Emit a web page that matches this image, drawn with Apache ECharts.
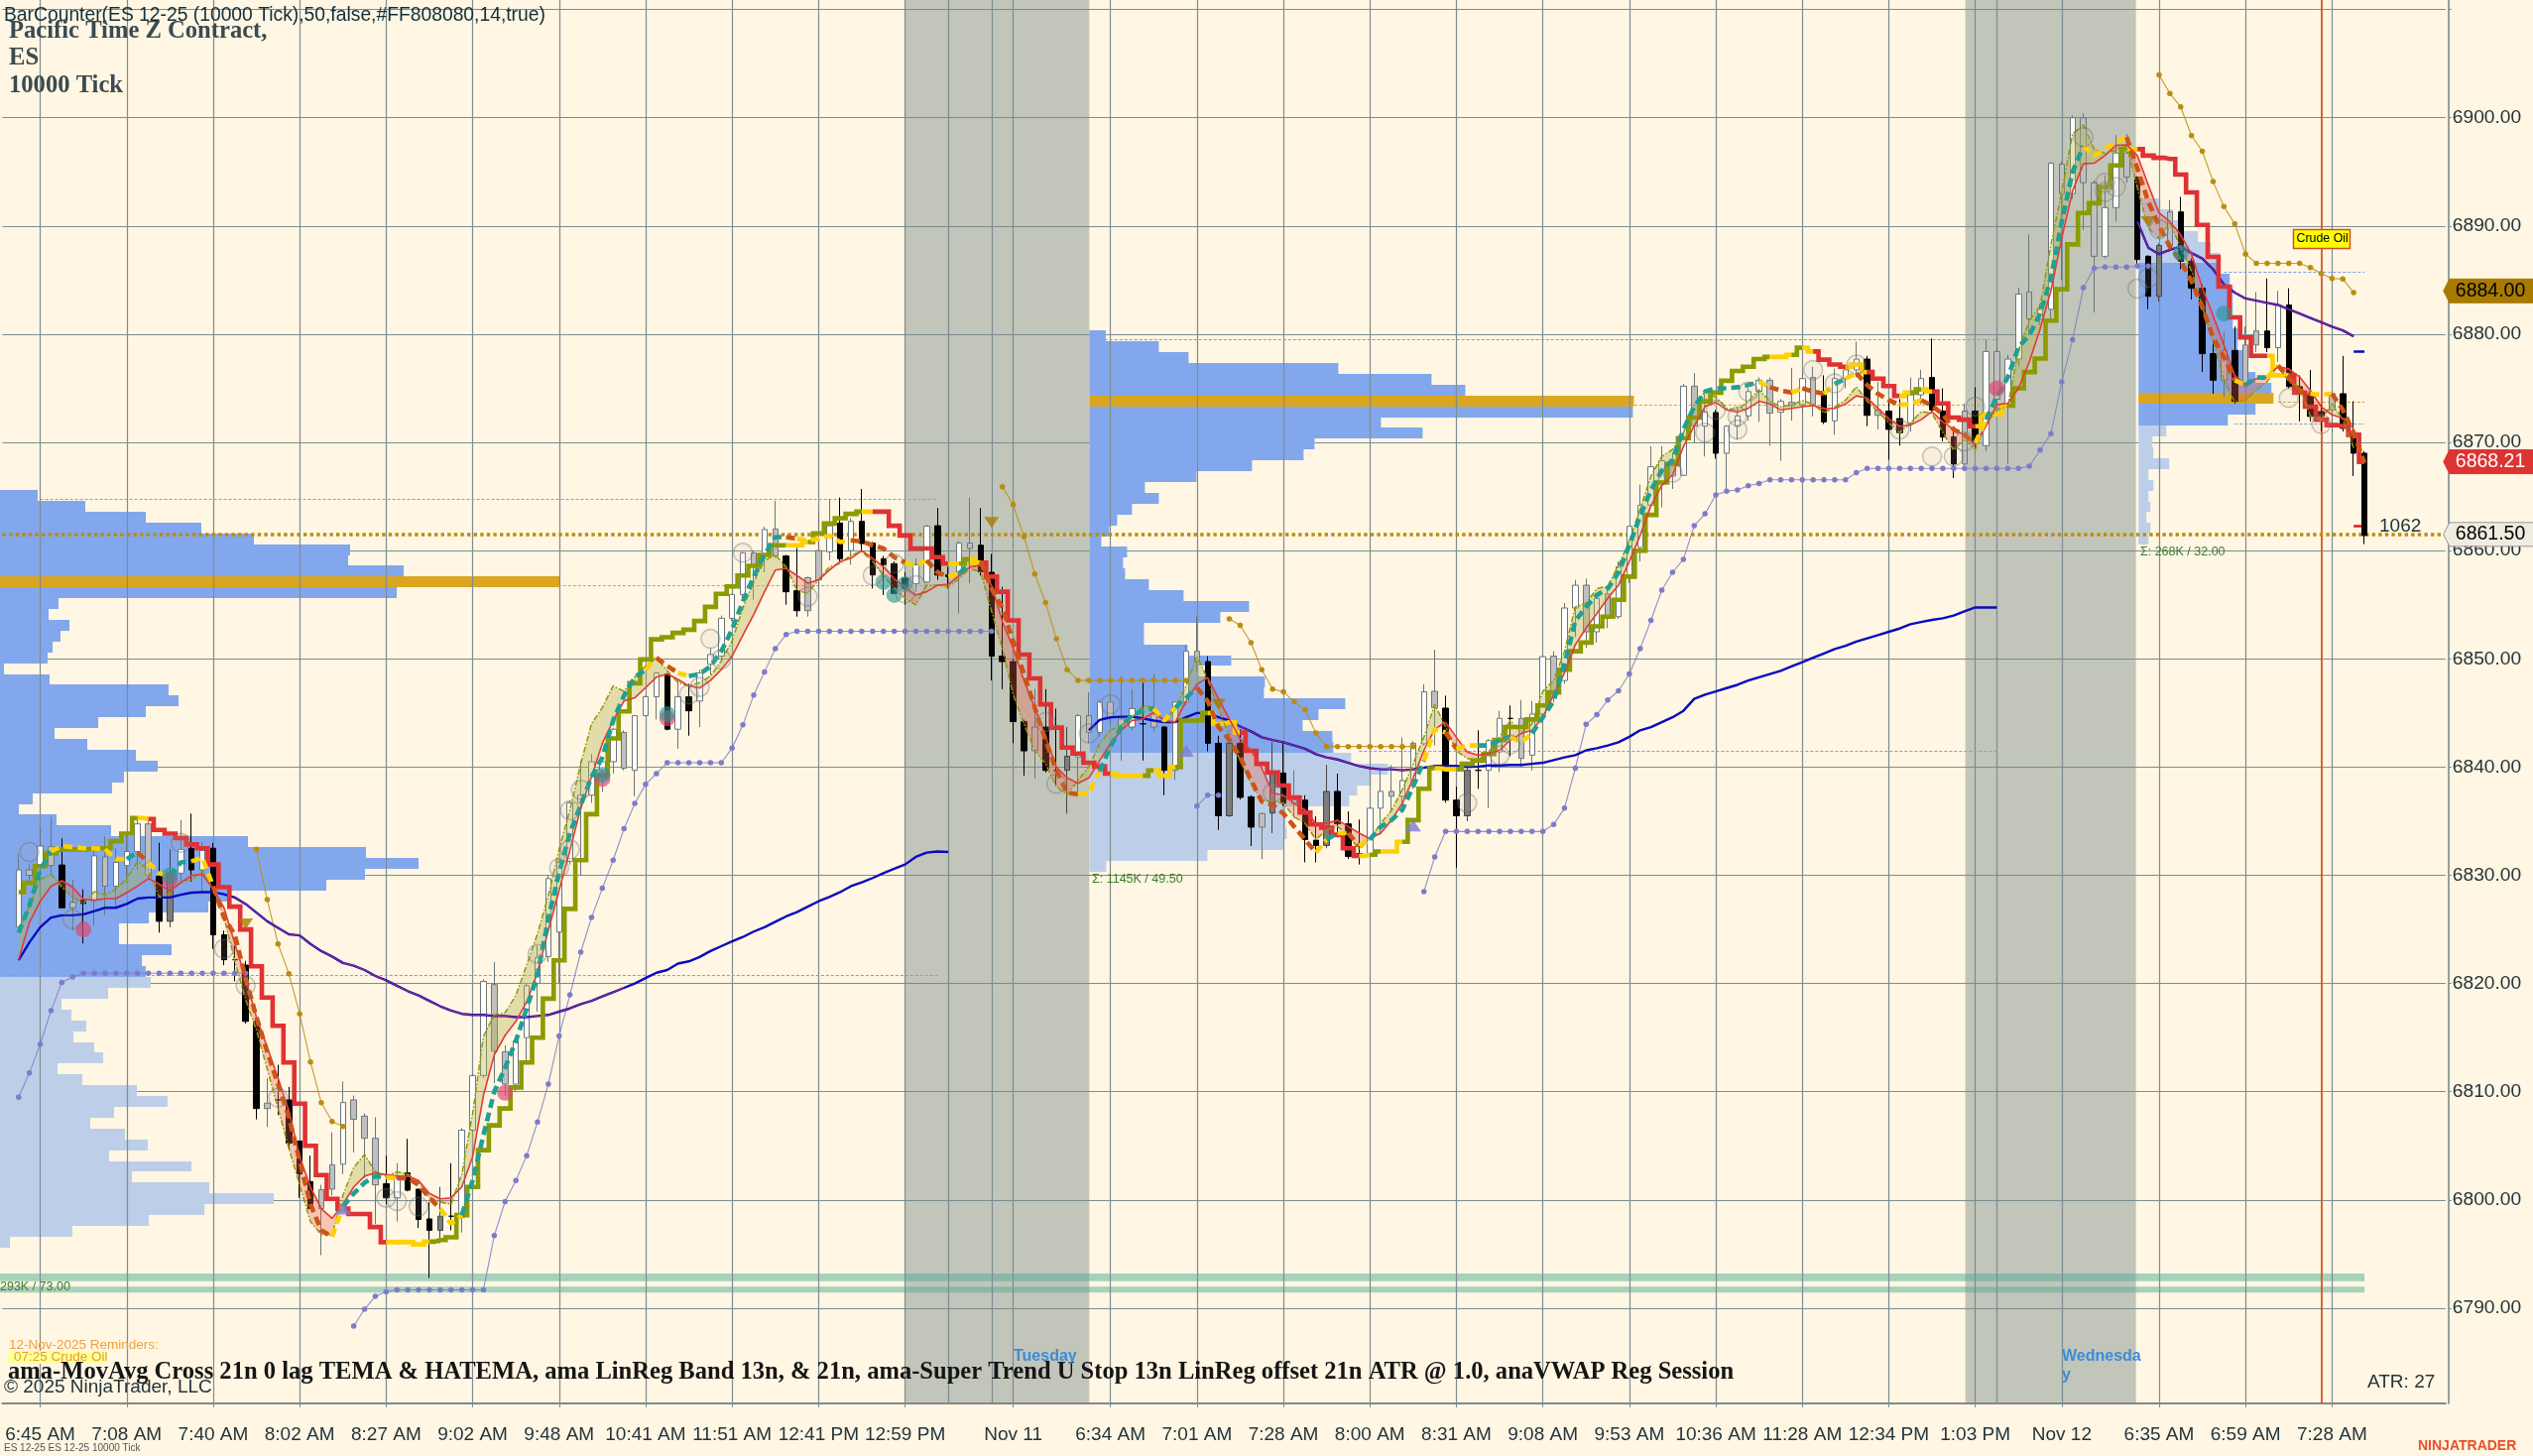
<!DOCTYPE html>
<html><head><meta charset="utf-8"><style>html,body{margin:0;padding:0;background:#FFF6E3}#c{width:2554px;height:1468px}</style>
<script src="https://cdn.jsdelivr.net/npm/echarts@6/dist/echarts.min.js"></script></head><body><div id="c"></div>
<script>
// bar index of every candle; categories are bar index + 1
const BAR_SLOTS = 226;
const tickBars = [2,10,18,26,34,42,50,58,66,74,82,92,101,109,117,125,133,141,149,157,165,173,181,189,198,206,214];
const tickLabels = ['6:45 AM','7:08 AM','7:40 AM','8:02 AM','8:27 AM','9:02 AM','9:48 AM','10:41 AM','11:51 AM','12:41 PM','12:59 PM','Nov 11','6:34 AM','7:01 AM','7:28 AM','8:00 AM','8:31 AM','9:08 AM','9:53 AM','10:36 AM','11:28 AM','12:34 PM','1:03 PM','Nov 12','6:35 AM','6:59 AM','7:28 AM'];
const extraGridBars = [86,90,183];
const priceTicks = [6790,6800,6810,6820,6830,6840,6850,6860,6870,6880,6890,6900];
// [open, close, low, high]
const candles = [
[6825.25,6830.5,6825.25,6832],[6830.5,6830,6829.5,6831],[6830.8,6832.7,6827.9,6834.4],[6830.9,6832.65,6829.9,6835.4],[6830.95,6827,6827,6833.4],[6827.5,6827,6824.9,6829.6],[6827.7,6827.4,6823.7,6828.7],[6827.7,6831.8,6825.4,6832.4],[6829,6831.7,6826.3,6833.6],[6829,6831.2,6826.9,6832.5],
[6830.9,6832.2,6829.3,6834],[6832.2,6834.75,6830.5,6835.4],[6834.75,6830,6829.6,6835],[6829.9,6825.75,6824.7,6833],[6830.2,6825.75,6825.2,6832.4],[6830.2,6832.4,6829.5,6835.1],[6832.5,6830.5,6829.4,6835.7],[6830.5,6832.3,6828.4,6833.1],[6832.5,6824.5,6823.2,6833],[6824.5,6822.2,6821.7,6824.9],
[6822.2,6822.2,6820.2,6823.5],[6821.7,6816.5,6816.3,6822.1],[6816.5,6808.45,6807.45,6816.9],[6808.95,6808.45,6806.75,6811.25],[6809.25,6809.25,6807.85,6812.5],[6809.25,6805.25,6804.65,6810.45],[6805.45,6802.4,6800.2,6805.45],[6801.7,6799.2,6799.2,6804.1],[6800.95,6799.2,6794.9,6801.4],[6803.25,6801,6800.4,6806.25],
[6803.3,6809,6802.4,6810.95],[6809.25,6807.45,6804.4,6809.65],[6807.75,6805.7,6802,6808],[6805.7,6801.4,6797.8,6807.65],[6801.5,6800.2,6799.6,6804.1],[6800.2,6802,6798,6803.4],[6802.5,6800.9,6800.8,6805.65],[6801,6798.2,6797.4,6801],[6798.25,6797.2,6792.8,6799.8],[6798.5,6797.2,6796,6801.2],
[6798.5,6798.5,6797.2,6803.4],[6798.4,6806.45,6797,6806.65],[6806.45,6811.5,6806.25,6811.7],[6811.5,6820.2,6811.3,6820.4],[6819.9,6813.75,6810.8,6822],[6813.7,6810.7,6809.6,6814.3],[6810.7,6814.7,6810,6815],[6815,6819.8,6812.8,6820],[6820,6822.4,6817.4,6823.5],[6822.5,6829.7,6822,6830],
[6824.75,6831.2,6820,6831.5],[6831.3,6836.7,6831,6836.9],[6836.7,6837.4,6830,6840.6],[6837.4,6840.5,6836.7,6841.2],[6839.7,6840.5,6837.7,6840.6],[6840.5,6843.5,6839.4,6843.6],[6843.2,6839.9,6839.7,6843.4],[6839.7,6844.75,6837.3,6844.8],[6844.75,6846.5,6844.7,6846.6],[6846.5,6848.7,6844.4,6848.8],
[6848.6,6843.5,6843.4,6848.7],[6843.5,6846.5,6841.7,6848],[6846.5,6845.2,6842.9,6847.7],[6846.1,6848.7,6843.7,6849],[6849.5,6850.4,6848.5,6851],[6850.25,6853.75,6849.7,6854],[6853.75,6855.95,6853.5,6856],[6855.95,6859.8,6855.5,6859.9],[6859.8,6858.65,6855.45,6860],[6859.7,6861.95,6858,6862.2],
[6859.5,6862,6859.3,6864.6],[6859.5,6856.2,6855,6859.6],[6856.3,6854.45,6853.9,6860.25],[6857.5,6854.45,6853.9,6857.6],[6857.3,6860,6856.5,6863.7],[6859.9,6862.3,6859.1,6864.75],[6862.55,6859.25,6859,6864.9],[6860,6862.7,6858.7,6863],[6862.7,6860.65,6860,6865.7],[6860.7,6857.75,6856.5,6860.8],
[6859.25,6858.7,6855.9,6859.5],[6858.8,6856.05,6856,6859],[6857.45,6856.5,6855,6858],[6856.95,6858.7,6856.2,6859.3],[6857.1,6862.25,6857,6862.4],[6862.3,6857.75,6857.3,6863.95],[6857.75,6857.6,6856.5,6858.5],[6858.05,6860.7,6854.2,6860.9],[6860.7,6860.2,6857,6864.9],[6860.5,6858.05,6857.7,6863.95],
[6858,6850.25,6848,6859.7],[6850.25,6849.75,6847.2,6856.65],[6849.75,6844.2,6842.2,6850],[6844.2,6841.5,6839.2,6844.4],[6843.7,6841.5,6838.95,6847.2],[6843.7,6839.7,6839.5,6847.2],[6839.7,6839.7,6838.2,6845.4],[6841,6839.7,6835.7,6843.7],[6840.95,6844.75,6837.6,6844.9],[6844.75,6843.2,6842.2,6846.9],
[6843.2,6846,6842.8,6846.2],[6846,6844.6,6844,6846.6],[6844.45,6843.7,6840.6,6848.4],[6843.7,6845.4,6843.4,6847.2],[6844,6844,6840.6,6848],[6844.9,6843.7,6843.3,6848.6],[6843.7,6839.7,6837.4,6843.8],[6839.7,6846,6838.8,6846.1],[6846,6850.7,6845.7,6851.3],[6850.7,6849.8,6848.9,6854],
[6849.75,6842.2,6841.45,6850.25],[6842.2,6835.5,6834.2,6842.9],[6842.2,6835.5,6835.4,6843.1],[6842.2,6837.2,6837,6843.5],[6837.25,6834.45,6832.7,6837.4],[6835.7,6834.45,6831.5,6835.8],[6835.75,6839.35,6833.9,6842.3],[6839.45,6836.65,6836.4,6842.3],[6836.95,6836.65,6835.3,6839.7],[6836.95,6833.3,6831.2,6837.4],
[6833.25,6832.75,6831.2,6835.45],[6837.75,6832.75,6832.5,6840.2],[6837.75,6834.75,6833.5,6839.4],[6834.75,6831.75,6831.5,6835.9],[6832,6832,6831,6835.15],[6832,6836.2,6831.8,6836.3],[6836.2,6837.75,6833.75,6839.7],[6837.75,6837.3,6836.05,6840.2],[6837.3,6838.75,6836,6842.75],[6838.75,6842.2,6838,6842.4],
[6842.15,6846.95,6842,6847.65],[6847,6845.5,6842,6850.85],[6845.45,6836.95,6836.7,6846.6],[6836.95,6835.5,6830.7,6838.2],[6839.7,6835.5,6835,6840],[6839.7,6839.7,6838,6843.4],[6839.7,6842.45,6836.2,6842.6],[6841.4,6844.5,6839.55,6845.2],[6844.5,6844.5,6841,6845.7],[6844.5,6840.8,6840,6846.2],
[6841.1,6844.9,6839.7,6846.1],[6844.9,6850.2,6844.5,6850.3],[6850.25,6846.4,6846,6850.7],[6848,6854.7,6847.7,6855.15],[6854.7,6856.8,6852,6857.3],[6856.8,6852.5,6851,6857.4],[6852.5,6855.6,6851.5,6856],[6856,6853.9,6852.85,6856.5],[6853.9,6858.5,6853.7,6859],[6857.7,6862.25,6857,6862.3],
[6860.3,6864.2,6859,6866.1],[6864.2,6867.75,6864,6869.65],[6866.3,6868.3,6864,6869.65],[6868.4,6866.9,6865.7,6869],[6866.96,6875.2,6866.9,6875.4],[6875.2,6871.5,6869.95,6876.4],[6871.5,6872.8,6868.7,6874.8],[6872.76,6869,6868.5,6873],[6869,6871.5,6865.7,6871.6],[6871.5,6872.45,6870.25,6873.3],
[6872.45,6874.7,6872,6875],[6874.7,6875.75,6871.9,6876],[6875.75,6872.7,6869.7,6876],[6872.8,6873.8,6868.3,6874],[6873.7,6873.4,6872,6876.9],[6873.5,6875.9,6872.7,6876.5],[6876,6873.5,6872.4,6877],[6874.4,6871.9,6871.7,6876.2],[6872,6875.9,6870.7,6876.8],[6875.9,6876.7,6875,6877.2],
[6876.7,6877.7,6876,6879.3],[6877.7,6872.5,6871.5,6878],[6873,6872.5,6871.2,6875.6],[6872.9,6871.2,6868.4,6873.9],[6872.2,6870.9,6869.7,6874],[6871.8,6874.4,6871,6876],[6874.4,6875.9,6873.5,6876.7],[6876,6873,6872.7,6879.6],[6872.9,6870.5,6870.1,6875],[6870.5,6868,6866.7,6871],
[6872.9,6868,6867.7,6873.6],[6872.9,6869.95,6869.5,6875.1],[6869.7,6878.4,6869.2,6879.5],[6878.4,6874,6873.5,6879.7],[6873.3,6877.7,6868,6878.1],[6877.7,6883.7,6877,6884.3],[6883.9,6881.4,6880,6889.2],[6881.4,6882.3,6880.8,6882.8],[6882.3,6895.8,6881,6895.9],[6895.7,6893,6885,6896],
[6893,6900,6892.5,6900.2],[6900,6894,6889.65,6900.4],[6894,6887.2,6882,6894.2],[6887.2,6891.7,6887,6894.7],[6891.7,6896.75,6890.4,6898.4],[6896.75,6894.5,6894,6898.5],[6894.5,6886.9,6886.4,6894.6],[6887.2,6883.5,6882.3,6887.3],[6888.2,6883.5,6883,6888.4],[6891.3,6888.2,6887.6,6892.4],
[6891.3,6886.75,6886,6892.7],[6886.75,6884.25,6883.2,6887],[6884.25,6878.2,6876.5,6884.6],[6878.2,6875.75,6874.5,6879.4],[6878.5,6875.75,6874.2,6880.2],[6878.5,6873.8,6873.6,6880.7],[6879,6875.45,6875,6880.7],[6880.3,6879,6878.35,6883.9],[6880.3,6878.75,6878.35,6885.15],[6878.75,6882.7,6877.45,6884],
[6882.7,6875.15,6875,6884.25],[6875.15,6874.5,6871.95,6876.2],[6874.5,6872.4,6871.95,6876.7],[6872.85,6872.4,6871,6873.5],[6874.5,6873,6871,6874.8],[6874.5,6871.3,6871,6878],[6870.9,6869,6866.9,6873.8],[6869,6861.4,6860.6,6869.2]
];
const lightGreyBars = [1,3,5,8,12,23,28,29,31,32,33,44,45,56,68,70,73,74,88,94,99,101,102,105,109,115,118,127,131,139,142,145,147,153,155,162,164,166,172,180,183,186,189,191,192,195,199,204,206,207,214];
const darkGreyBars = [14,39,97,112,116,121,134,198];
// super trend stop
const stopLine = [6828.45,6829.3,6830.85,6832.05,6832.4,6832.4,6832.4,6832.5,6832.5,6833.15,
6833.85,6835.3,6835.2,6834.2,6833.85,6833.45,6832.85,6832.5,6831,6828.9,
6827.1,6825,6821.6,6818.7,6816.1,6812.7,6808.9,6805,6802.3,6800.1,
6799.2,6798.7,6798.7,6797.5,6796.1,6796.1,6796.1,6795.9,6796.15,6796.3,
6796.55,6798.6,6801.2,6804.6,6806.9,6808.45,6810.4,6812.7,6815,6818.6,
6822.15,6826.9,6831.4,6835.65,6839.2,6842.65,6845.15,6847.75,6849.95,6851.8,
6852,6852.4,6852.7,6853.5,6854.8,6856,6856.7,6857.7,6858.6,6859.6,
6860.5,6860.5,6860.5,6860.8,6861.6,6862.5,6863,6863.4,6863.6,6863.6,
6863.6,6862.3,6861.4,6860.2,6860.2,6859.4,6858.8,6858.8,6859.2,6858.9,
6857.6,6856.2,6853.55,6850.4,6848.2,6845.8,6843.65,6841.8,6841.25,6840.4,
6840.05,6839.4,6839.2,6839.2,6839.2,6839.7,6839.2,6840,6844.3,6844.3,
6845,6844,6844.15,6843.2,6841.5,6840.3,6839.5,6838.3,6837.2,6835.8,
6834.7,6834.4,6833.75,6832.5,6831.8,6831.9,6832.2,6832.2,6833.1,6835.1,
6838,6839.9,6839.8,6839.8,6840.3,6840.6,6841.2,6842.5,6843.7,6843.7,
6844.4,6845.7,6846.9,6849,6850.7,6851.5,6853,6853.9,6855.45,6857.6,
6860,6863.3,6866.3,6868,6870.4,6872.3,6873.8,6874.6,6875.7,6876.6,
6877,6877.7,6877.9,6877.9,6878.1,6878.75,6878.4,6877.65,6877.2,6877,
6877.2,6876.5,6875.9,6875.2,6874.3,6874.6,6874.9,6874.7,6873.6,6872.3,
6872.1,6871.5,6872.6,6872.6,6873.4,6875,6876.5,6877.75,6881.25,6884.15,
6888.3,6891.2,6892.1,6893.6,6895.6,6897.1,6897.1,6896.5,6896.3,6896.2,
6894.75,6893.1,6890.1,6887.15,6884.4,6881.55,6879.7,6878,6878,6876.2,
6876.2,6874.6,6873.3,6872.1,6871.6,6871.5,6870.7,6868.2];
const stopRuns = [[0,'o'],[11,'g'],[12,'r'],[34,'g'],[38,'o'],[71,'g'],[73,'o'],[78,'g'],[79,'r'],[86,'g'],[87,'o'],[88,'g'],[89,'r'],[101,'g'],[104,'o'],[105,'g'],[107,'o'],[110,'g'],[113,'r'],[124,'g'],[125,'o'],[126,'g'],[128,'o'],[131,'g'],[133,'o'],[162,'g'],[164,'o'],[165,'g'],[166,'r'],[169,'g'],[171,'r'],[174,'g'],[175,'o'],[176,'g'],[177,'r'],[181,'g'],[184,'o'],[195,'g'],[196,'r'],[208,'g'],[210,'r']];
const temaLine = [6824.7,6827.2,6830.5,6832.2,6832.7,6832.6,6832.5,6832.5,6832.4,6831.5,
6831.5,6832.1,6831.2,6830.2,6829.9,6831.2,6831.3,6831.6,6829,6826.1,
6824.5,6820.5,6816.9,6813.7,6810.7,6807.65,6803.6,6799.6,6797.2,6796.6,
6799.4,6800.6,6801.6,6802.2,6802.1,6802,6802,6801.4,6800.2,6799.2,
6797.8,6798.6,6801.8,6806,6810,6812.2,6814.7,6817.7,6820.8,6826,
6830.25,6833.9,6836.5,6839.1,6840.9,6844.3,6846.6,6848.3,6849,6850.1,
6849.35,6848.7,6848.4,6848.6,6849.3,6850.7,6852.7,6855.3,6857.6,6859.6,
6861.25,6861.25,6861.1,6860.95,6861.1,6861.4,6860.8,6860.95,6860.85,6860.5,
6860.2,6859.4,6858.9,6858.6,6859.1,6858,6857.6,6857.9,6858.8,6859,
6856.5,6854.7,6851.6,6848.6,6845.5,6842.5,6839.7,6837.6,6837.5,6837.6,
6839.6,6841.9,6843.7,6844.8,6845.2,6845.4,6844.3,6845.5,6846.4,6847.35,
6846.1,6843.7,6842.5,6840.9,6838.8,6836.8,6836.5,6835.7,6834.5,6833.3,
6832.1,6833.3,6833.9,6833.9,6832.7,6833.3,6834.5,6835.1,6836.05,6838.2,
6840.6,6843.5,6843.2,6841.7,6842,6842,6842,6842.5,6842.8,6842.3,
6843.1,6844.6,6846.1,6849.5,6853.5,6854.8,6855.9,6856.5,6858,6860.5,
6863.2,6865.6,6867.4,6868.4,6871.2,6873.3,6874.7,6875,6875,6875.1,
6875.3,6875.6,6875.1,6874.8,6874.6,6875,6874.7,6874.5,6875.4,6875.9,
6876.4,6875.3,6874.5,6873.9,6873.5,6873.5,6873.9,6873.4,6872.6,6871.2,
6870.7,6869.95,6872.1,6874.25,6876,6878.8,6879.9,6881.9,6885.2,6890.4,
6895,6897.4,6896.5,6897.1,6897.75,6898.2,6895.3,6892.25,6890,6888.1,
6886.75,6884.9,6882.5,6879.7,6877.9,6875.75,6875.3,6876,6876,6877.1,
6876,6874.8,6874.5,6874.4,6874.5,6873,6870.9,6868.1];
const temaRuns = [[0,'t'],[3,'g'],[10,'t'],[11,'o'],[12,'g'],[14,'t'],[16,'g'],[18,'o'],[29,'g'],[30,'t'],[34,'g'],[35,'o'],[39,'g'],[41,'t'],[58,'g'],[59,'o'],[61,'g'],[62,'t'],[71,'o'],[72,'g'],[77,'o'],[82,'g'],[84,'o'],[86,'g'],[87,'t'],[88,'g'],[89,'o'],[98,'g'],[100,'t'],[105,'g'],[107,'t'],[109,'o'],[120,'g'],[121,'t'],[122,'g'],[123,'o'],[124,'g'],[125,'t'],[130,'g'],[132,'o'],[133,'g'],[135,'t'],[138,'g'],[140,'t'],[161,'g'],[162,'o'],[164,'g'],[165,'o'],[167,'g'],[168,'t'],[169,'g'],[170,'o'],[174,'g'],[176,'o'],[181,'g'],[182,'t'],[191,'g'],[195,'o'],[205,'g'],[206,'t'],[208,'g'],[209,'o'],[212,'g'],[214,'o']];
const hatemaLine = [6822.2,6825.65,6827.6,6829,6829.5,6828.9,6827.8,6827.7,6827.85,6827.85,
6828.4,6829,6829.7,6829.2,6828.55,6829.3,6830,6830.1,6828.75,6827,
6823.7,6820.5,6816.9,6814.1,6811.25,6808.25,6804,6801.2,6799.2,6798.3,
6799.6,6801.2,6802.2,6802.5,6802.35,6802.2,6802.2,6801.8,6800.6,6800.1,
6800.2,6801.2,6804,6809.65,6813.4,6815.2,6816.5,6818.3,6821,6824.9,
6828.6,6832.3,6836.2,6839.1,6842.2,6844.3,6846.1,6846.4,6847.35,6848.3,
6848.6,6848.1,6847.5,6847.3,6848,6849,6850.25,6852.2,6854.1,6856.2,
6858.2,6858.35,6857.7,6857,6857.3,6858.2,6859,6859.3,6860,6859.3,
6858.5,6857.4,6856.65,6855.9,6856.2,6856.8,6856.9,6857.7,6858.5,6858.65,
6856.8,6853.45,6851,6848,6845.5,6842.8,6840,6839,6838.5,6839,
6840.6,6842.2,6843.4,6844.3,6844.45,6845.05,6844.3,6844.15,6846.1,6847.65,
6848.25,6846.3,6844.45,6842.6,6841.55,6839.9,6837.6,6837.4,6836.65,6836.05,
6834.8,6834.8,6835.1,6834.5,6833.9,6833.4,6833.9,6835.1,6836.65,6838.95,
6841.55,6843.5,6844.15,6842.75,6841.4,6841.1,6841.25,6841.55,6842.5,6843.1,
6843.4,6844.6,6846.7,6848.7,6851.3,6852.85,6854.2,6855.6,6856.8,6859,
6861.4,6864.15,6866,6867,6869.6,6871.5,6873.3,6873.7,6873,6872.8,
6873.15,6873.8,6873.55,6873,6873.15,6873.3,6873.4,6873.15,6873.15,6873.55,
6874.3,6874.1,6873.15,6872.2,6871.5,6871.6,6872.1,6872.85,6871.9,6871.2,
6870.7,6869.8,6871.5,6873.5,6873.6,6875,6877.45,6880.5,6884,6888.9,
6893.2,6895.75,6895.8,6896.5,6897.45,6897.5,6896.5,6893.8,6891.2,6890.4,
6889.2,6887.4,6884.3,6881.7,6879,6876.2,6875.3,6875.9,6876.05,6877,
6876.8,6876.05,6874.8,6873.3,6872.55,6872.25,6871.3];
const linRegLine = [6824.7,6827.2,6829.6,6830.1,6828.9,6827.95,6827.4,6828.5,6828.2,6828.7,
6829.7,6831.3,6830.5,6828,6828.25,6829.5,6829.55,6830.4,6828.7,6826.1,
6822.1,6818.5,6815.7,6812.1,6808.45,6804.8,6801.4,6798,6796.8,6796.8,
6800.4,6803,6804.2,6802.6,6802.2,6802.6,6802.4,6801.6,6800.2,6799.8,
6799.6,6802.4,6808,6815.1,6817.1,6817.3,6818.9,6821.7,6824.6,6828.1,
6832.4,6836.05,6840.3,6844,6845.5,6847.5,6847,6848.3,6849.35,6850.1,
6848.9,6847.8,6847.5,6847.8,6848.4,6849.8,6851.65,6854.7,6857.1,6859.1,
6859.6,6858.5,6856.35,6856.05,6857.3,6858.5,6858.8,6859.6,6859.9,6859,
6857.7,6856.5,6855.6,6855,6856.8,6856.8,6856.65,6857.4,6858.35,6858,
6854.4,6851,6846.7,6844,6841.55,6840.3,6838.2,6837.4,6838.8,6840,
6842.2,6843.4,6843.85,6844.6,6845.7,6845.5,6844.15,6845.5,6847.5,6850.25,
6848.1,6845.4,6842.8,6840.6,6838.5,6836.95,6836.8,6836.65,6835.4,6834.8,
6833.3,6834.2,6834.5,6833.75,6832.4,6833.3,6834.8,6836,6837.9,6840.3,
6842.8,6845.8,6843.7,6841.5,6840.8,6840.6,6841.4,6842.8,6844.3,6843.1,
6844,6847,6848,6850.7,6854.8,6855.15,6856.5,6856.7,6858.65,6860.9,
6863.85,6866.9,6868.7,6869.35,6870.9,6873.5,6874.7,6874.2,6873.15,6873,
6873.8,6874.85,6873.8,6873.3,6873.45,6873.85,6873.55,6872.7,6873.3,6873.9,
6875.15,6873.8,6872.85,6871.8,6870.9,6871.8,6872.85,6872.7,6870.9,6869.3,
6870.25,6869.35,6871.8,6873,6873.3,6878.5,6881.25,6882.6,6888.3,6893.2,
6898.5,6899.35,6897.1,6896.7,6897,6897.4,6893.5,6889.8,6888.9,6890.3,
6888,6885.85,6882.5,6879.4,6875.75,6873.7,6873.9,6874.85,6875.6,6877.15,
6875.6,6875.15,6872.4,6872.1,6873.6,6872.1,6869.5];
// dotted blue stop segments: first bar, then values
const blueStopA = [0,[6809.5,6811.75,6814.4,6817.5,6820.1,6820.6,6820.95,6820.95,6820.95,6820.95,6820.95,6820.95,6820.95,6820.95,6820.95,6820.95,6820.95,6820.95,6820.95,6820.95,6820.95,6820.95]];
const blueStopB = [31,[6788.35,6789.9,6791.1,6791.5,6791.7,6791.7,6791.7,6791.7,6791.7,6791.7,6791.7,6791.7,6791.7,6796.7,6799.85,6801.8,6804.1,6807.2,6810.7,6815.15,6818.95,6822.9,6826.1,6828.8,6831.4,6834.3,6836.65,6838.4,6839.4,6840.4,6840.4,6840.4,6840.4,6840.4,6840.4,6841.75,6843.9,6846.65,6848.8,6850.95,6852.25,6852.55,6852.55,6852.55,6852.55,6852.55,6852.55,6852.55,6852.55,6852.55,6852.55,6852.55,6852.55,6852.55,6852.55,6852.55,6852.55,6852.55,6852.55,6852.55]];
const blueStopC = [109,[6836.4,6837.4,6837.4]];
const blueStopD = [130,[6828.5,6831.7,6834.05,6834.05,6834.05,6834.05,6834.05,6834.05,6834.05,6834.05,6834.05,6834.05,6834.7,6836.2,6839.9,6843.95,6844.85,6846.2,6847.05,6848.6,6850.95,6853.55,6856.35,6858,6859.2,6862.3,6863.4,6865.15,6865.5,6865.6,6866,6866.2,6866.55,6866.55,6866.55,6866.55,6866.55,6866.55,6866.55,6866.55,6867.2,6867.6,6867.6,6867.6,6867.6,6867.6,6867.6,6867.6,6867.6,6867.6,6867.6,6867.6,6867.6,6867.6,6867.6,6867.6,6867.8,6869.3,6870.8,6875.6,6879.5,6884.3,6886.1,6886.2,6886.2,6886.2,6886.3,6886.3]];
const goldStopA = [22,[6832.4,6827.75,6823.65,6820.9,6817.2,6812.75,6809,6807.25,6806.8]];
const goldStopB = [91,[6865.9,6864.25,6861.3,6857.85,6855.2,6851.85,6849,6848,6848,6848,6848,6848,6848,6848,6848,6848,6848,6848]];
const goldStopC = [112,[6853.7,6853.1,6851.5,6849,6847.2,6846.95,6846.05,6845.3,6843.15,6841.9,6841.9,6841.9,6841.9,6841.9,6841.9,6841.9,6841.9,6841.9]];
const goldStopD = [198,[6903.95,6902.25,6901,6898.35,6896.9,6894.1,6891.8,6890.2,6887.4,6886.55,6886.55,6886.55,6886.55,6886.55,6886.15,6885.6,6885.15,6885.1,6883.85]];
const vwapA = [0,[6822.15,6823.8,6825.2,6826.1,6826.3,6826.3,6826.4,6826.7,6827,6827,6827.35,6827.85,6827.95,6827.95,6827.95,6828.2,6828.4,6828.45,6828.45,6828.25,6827.95,6827.35,6826.55,6825.75,6825.15,6824.55,6824.45,6823.65,6823,6822.5,6821.9,6821.65,6821.25,6820.7,6820.3,6819.8,6819.3,6818.9,6818.4,6817.9,6817.5,6817.2,6817.1,6817.1,6817,6817,6816.9,6816.9,6817,6817.1,6817.4,6817.7,6818.1,6818.4,6818.8,6819.2,6819.6,6820,6820.5,6821,6821.25,6821.85,6822.05,6822.45,6823,6823.45,6823.9,6824.3,6824.8,6825.2,6825.7,6826.2,6826.6,6827.1,6827.6,6828,6828.45,6829,6829.35,6829.75,6830.2,6830.6,6831,6831.7,6832.1,6832.2,6832.15]];
const vwapB = [99,[6843.4,6844.35,6844.6,6844.65,6844.65,6844.5,6844.3,6844.15,6844.15,6844.6,6845,6845,6844.6,6844.3,6843.75,6843.3,6842.75,6842.5,6842.3,6842,6841.7,6841.2,6840.9,6840.7,6840.4,6840.1,6839.9,6839.8,6839.8,6839.7,6839.8,6839.95,6840.1,6840.1,6840.1,6840,6840.05,6840.15,6840.15,6840.2,6840.2,6840.3,6840.4,6840.65,6840.9,6841.1,6841.55,6841.75,6842,6842.3,6842.8,6843.4,6843.7,6844.15,6844.6,6845.2,6846.3,6846.7,6847,6847.3,6847.6,6848,6848.3,6848.6,6848.9,6849.3,6849.7,6850.1,6850.5,6850.9,6851.2,6851.6,6851.9,6852.2,6852.5,6852.8,6853.2,6853.4,6853.6,6853.75,6854,6854.4,6854.75,6854.75,6854.75]];
const vwapC = [196,[6890.4,6888,6887.4,6887.8,6888.1,6887.5,6887,6886,6884.6,6883.85,6883.3,6883.1,6882.9,6882.7,6882.3,6881.9,6881.5,6881.1,6880.7,6880.35,6879.8]];
const vwapCoreSpans = [[20,56],[112,130],[196,216]];
// volume profiles, one row per point of price
const profileATop = 6865.6, profileAPoc = 8, profileALightFrom = 45;
const profileAVol = [38,86,147,203,256,353,351,407,565,400,59,49,70,61,53,48,4,50,170,180,147,99,55,88,137,159,125,113,33,19,57,112,250,369,422,368,329,232,210,150,120,120,173,143,147,152,109,62,72,87,74,95,104,58,83,138,169,115,91,126,149,110,193,133,211,276,206,150,73,10];
const profileBTop = 6880.34, profileBPoc = 6, profileBLightFrom = 39;
const profileBVol = [16.5,70,100,251,345,379,549,548,294,336,227,216,164,108,56,70,43,28,20,12,38,34,36,60,95,161,132,55,55,99,143,110,177,176,258,231,215,245,246,264,301,284,270,262,198,198,199,196,119,17];
const profileCTop = 6892.55, profileCPoc = 18, profileCDark = [6,20];
const profileCVol = [22,35,40,60,73,82,82,92,95,95,95,95,100,100,105,110,118,134,136,118,90,28,14,15,31,10,15,10,12,8,12,10];
// price level lines [first bar, last bar, price, style]
const levelLines = [[2,85,6864.75,'b'],[49,85,6856.75,'y'],[-1,85,6820.75,'b'],[100,183,6879.5,'b'],[149,183,6873.5,'y'],[124,183,6841.5,'b'],[204,217,6885.75,'b'],[209,217,6873.75,'y'],[205,217,6871.75,'b']];
const levelLabelsBlue = [[83,6865.3,'6864.75'],[83,6821.25,'6820.75'],[181,6880.1,'6879.50'],[181,6842.05,'6841.50'],[215,6886.3,'6885.75'],[215,6872.3,'6871.75']];
const levelLabelsGold = [[83,6857.35,'6856.75'],[181,6874.1,'6873.50'],[215,6874.4,'6873.75']];
const lastPrice = 6861.5, askPrice = 6884, tradePrice = 6868.21, bluePaintPrice = 6878.45, redPaintPrice = 6862.25;
const barCounts = [[-1,6817.4,'22'],[1,6826.1,'24'],[3,6827.35,'26'],[5,6821.3,'28'],[7,6821.85,'30'],[9,6823.4,'32'],[11,6824.85,'34'],[13,6821.1,'36'],[15,6826.4,'38'],[17,6824.85,'40'],[19,6818.1,'42'],[21,6812.6,'44'],[23,6803.15,'46'],[25,6800.9,'48'],[27,6795.4,'50'],[29,6796.7,'52'],[31,6801,'54'],[33,6794.4,'56'],[35,6794.4,'58'],[37,6793.9,'60'],[39,6792.4,'62'],[41,6793.45,'64'],[43,6807.85,'66'],[45,6804.65,'68'],[47,6808.85,'70'],[49,6818.3,'72'],[51,6827.35,'74'],[53,6833.2,'76'],[55,6835.85,'78'],[57,6833.7,'80'],[59,6840.9,'82'],[61,6838.1,'84'],[63,6840.1,'86'],[65,6845.4,'88'],[67,6851.9,'90'],[69,6854.6,'92'],[71,6851.4,'94'],[73,6850.4,'96'],[75,6855.65,'98'],[77,6855.15,'100'],[79,6852.9,'102'],[81,6852.3,'104'],[83,6852.1,'106'],[85,6853.85,'108'],[88,6853.4,'2'],[90,6844.35,'4'],[92,6838.65,'6'],[94,6835.35,'8'],[96,6834.4,'10'],[98,6834.6,'12'],[100,6838.65,'14'],[102,6839.4,'16'],[104,6837.1,'18'],[106,6833.85,'20'],[108,6841.6,'22'],[110,6837.9,'24'],[112,6831.85,'26'],[114,6829.1,'28'],[116,6830.4,'30'],[118,6831.55,'32'],[120,6827.6,'34'],[122,6830.65,'36'],[124,6827.35,'38'],[126,6830.1,'40'],[128,6832.15,'42'],[130,6838.6,'44'],[132,6833.3,'46'],[134,6831.4,'48'],[136,6832.6,'50'],[138,6836.9,'52'],[140,6836.15,'54'],[142,6842.85,'56'],[144,6848.9,'58'],[146,6847.9,'60'],[148,6850.15,'62'],[150,6858.65,'64'],[152,6860.4,'66'],[154,6863.3,'68'],[156,6865.05,'70'],[158,6861.65,'72'],[160,6868.4,'74'],[162,6866,'76'],[164,6868.6,'78'],[166,6868.9,'80'],[168,6867.15,'82'],[170,6871.65,'84'],[172,6867.55,'86'],[174,6866.1,'88'],[176,6868.4,'90'],[178,6866.65,'92'],[180,6864.35,'94'],[182,6865.6,'96'],[185,6872.4,'2'],[187,6873.6,'4'],[189,6885.6,'6'],[191,6886.15,'8'],[193,6883.65,'10'],[195,6888.1,'12'],[197,6878.65,'14'],[199,6883.85,'16'],[201,6879.6,'18'],[203,6870.85,'20'],[205,6870.1,'22'],[207,6874.85,'24'],[209,6873.9,'26'],[211,6868.4,'28'],[213,6868.6,'30'],[215,6866.65,'32']];
const ringMarks = [[1,6832.15],[5,6825.95],[15,6833],[19,6823.2],[21,6819.8],[24,6809.45],[34,6800.2],[35,6799.9],[37,6799.4],[48,6822.75],[50,6830.7],[51,6836],[51,6832.4],[52,6837.9],[62,6846.7],[63,6847.4],[64,6851.85],[65,6849.95],[67,6859.8],[73,6855.75],[79,6857.7],[81,6858.8],[82,6856.05],[83,6856.8],[95,6844.15],[96,6838.45],[99,6843.1],[101,6845.8],[116,6837.6],[134,6836.7],[137,6841.1],[138,6842.1],[153,6867.2],[156,6870.9],[157,6873],[159,6872.4],[159,6871.2],[160,6874.7],[166,6876.7],[168,6875.45],[170,6877.2],[174,6871.2],[177,6868.7],[179,6868.7],[180,6870.1],[181,6873.3],[191,6898.2],[193,6894],[193,6893.15],[194,6893.6],[196,6884.2],[197,6885.2],[198,6889.7],[210,6874.1],[213,6871.7]];
const pinkBalls = [[6,6825],[14,6829.6],[45,6809.9],[54,6838.9],[60,6844.5],[183,6875]];
const tealBalls = [[14,6830],[54,6839.3],[60,6844.9],[80,6857.1],[81,6855.9],[82,6856.9],[200,6887.5],[204,6881.9]];
const sellTriangles = [[21,6825.5],[90,6862.6],[111,6845.8],[197,6890.4]];
const buyTriangles = [[30,6799.2],[108,6841.5],[129,6834.6]];
const greenA = [[6,6819.9,'A'],[45,6804.5,'A'],[82,6851.25,'A'],[183,6869.75,'A'],[213,6869,'A']];
const redA = [[200,6889.65,'A'],[204,6883.55,'A']];

const C={bg:'#FFF6E3',grid:'#7D8D92',txt:'#24343C',olive:'#8B9B00',gold:'#FFD000',red:'#DF3234',teal:'#1FA094',orange:'#CC5417',slate:'#7C7CCB',dgold:'#BC8C10'};
const cat=b=>b+1, cats=Array.from({length:BAR_SLOTS},()=>'');
tickBars.forEach((b,i)=>cats[cat(b)]=tickLabels[i]);
const gridBars=tickBars.concat(extraGridBars);
const isLight=new Set(lightGreyBars),isDark=new Set(darkGreyBars);
const candleData=[[ '-','-','-','-' ]].concat(candles).map((v,i)=>{
  const b=i-1,it={value:v};
  if(isLight.has(b)) it.itemStyle={color:'#BFBFBF',color0:'#BFBFBF',borderColor:'#6A7678',borderColor0:'#6A7678',borderColorDoji:'#6A7678'};
  if(isDark.has(b)) it.itemStyle={color:'#7C7C7C',color0:'#7C7C7C',borderColor:'#444',borderColor0:'#444',borderColorDoji:'#444'};
  return it;
});
function pairsFrom(start,vals){return vals.map((v,i)=>[cat(start+i),v]);}
const COLOR_KEY={o:C.olive,g:C.gold,r:C.red};
const TEMA_KEY={t:C.teal,o:C.orange,g:C.gold};
function runSeries(vals,runs,build){return runs.map((r,k)=>{const e=k+1<runs.length?runs[k+1][0]:vals.length-1;
  const d=[];for(let i=r[0];i<=e&&i<vals.length;i++)d.push([cat(i),vals[i]]);return build(d,r[1]);});}
const stepRunSeries=runSeries(stopLine,stopRuns,(d,k)=>({type:'line',step:'middle',data:d,symbol:'none',z:7,silent:true,lineStyle:{color:COLOR_KEY[k],width:4.6,cap:'butt',join:'miter'}}));
const temaRunSeries=runSeries(temaLine,temaRuns,(d,k)=>({type:'line',data:d,symbol:'none',z:9,silent:true,lineStyle:{color:TEMA_KEY[k],width:4.6,type:[9,5],cap:'butt'}}));
const dotSeries=(seg,color)=>({type:'line',data:pairsFrom(seg[0],seg[1]),symbol:'circle',symbolSize:5.5,z:6,silent:true,itemStyle:{color},lineStyle:{color,width:1.1,opacity:.85}});
const vwapSeries=(seg)=>({type:'line',data:pairsFrom(seg[0],seg[1]),symbol:'none',z:6,silent:true,lineStyle:{color:'#0A0ABE',width:2.4}});
function vwapCore(){const out=[];[vwapA,vwapB,vwapC].forEach((seg,j)=>{const sp=vwapCoreSpans[j];
  const d=[];seg[1].forEach((v,i)=>{const b=seg[0]+i;if(b>=sp[0]&&b<=sp[1])d.push([cat(b),v]);});
  out.push({type:'line',data:d,symbol:'none',z:6,silent:true,lineStyle:{color:'#D0305A',width:.9}});});return out;}
const textSeries=(rows,fontSize,fontFamily,color,z,fontWeight)=>({type:'scatter',symbolSize:1,itemStyle:{opacity:0},z:z,silent:true,clip:false,data:rows.map(r=>[cat(r[0]),r[1],r[2]]),
  labelLayout:{hideOverlap:false},label:{show:true,position:'inside',formatter:p=>p.data[2],fontSize,fontFamily,color,fontWeight:fontWeight||'normal'}});
const markSeries=(rows,symbol,size,style,rot,z)=>({type:'scatter',symbol,symbolSize:size,symbolRotate:rot||0,z:z||10,silent:true,data:rows.map(r=>[cat(r[0]),r[1]]),itemStyle:style});
// zones: [cat1, topPrice, cat2, bottomPrice, off1, off2, fill]
const yMin=6781.2,yMax=6910.88;
const zoneRows=[
 [cat(82),yMax,cat(99),yMin,0,0.04,'rgba(122,140,136,.46)'],
 [cat(180),yMax,cat(196),yMin,0.08,-0.14,'rgba(122,140,136,.46)']];
const tealRows=[
 [0,6793.2,cat(217),6792.5,-0.72,0,'rgba(78,172,150,.5)'],
 [0,6792,cat(217),6791.45,-0.72,0,'rgba(78,172,150,.5)']];
const zoneRender=(p,api)=>{const bw=api.size([1,0])[0];
  const x1=api.coord([api.value(0),api.value(1)]),x2=api.coord([api.value(2),api.value(3)]);
  const a=x1[0]+api.value(4)*bw,b=x2[0]+api.value(5)*bw;
  return {type:'rect',shape:{x:a,y:x1[1],width:b-a,height:x2[1]-x1[1]},style:{fill:api.value(6)}};};
const zoneSeries=(rows,z)=>({type:'custom',z,silent:true,clip:false,renderItem:zoneRender,data:rows,
  dimensions:['a','b','c','d','e','f',{name:'g',type:'ordinal'}],encode:{x:0,y:1}});
// profile: each row [startCat, rowTop, volume, kind(0 dark,1 light,2 poc), offset]
const FILL=['#82A7EC','#BDCFE8','#DAA520'];
function profileRows(vols,top,startCat,off,kindOf){return vols.map((v,i)=>[startCat,top-i,v,kindOf(i),off]);}
const profileRender=(p,api)=>{const bw=api.size([1,0])[0];
  const pt=api.coord([api.value(0),api.value(1)]),pb=api.coord([api.value(0),api.value(1)-1]);
  const x0=pt[0]+api.value(4)*bw,w=api.value(2)*bw/10.9,y0=Math.round(pt[1]),y1=Math.round(pb[1]);
  return {type:'rect',shape:{x:x0,y:y0,width:w,height:y1-y0},style:{fill:FILL[api.value(3)]}};};
const profileSeries=d=>({type:'custom',z:2,silent:true,clip:false,renderItem:profileRender,data:d,encode:{x:0,y:1}});
// shaded band between hatema and linreg
const bandData=hatemaLine.slice(0,-1).map((v,i)=>[cat(i),v,linRegLine[i],hatemaLine[i+1],linRegLine[i+1]]);
const bandSeries={type:'custom',z:6,silent:true,renderItem:(p,api)=>{
  const c=api.value(0),a=api.value(1),b=api.value(2),a2=api.value(3),b2=api.value(4);
  const pts=[api.coord([c,a]),api.coord([c+1,a2]),api.coord([c+1,b2]),api.coord([c,b])];
  const up=(b+b2)>(a+a2);
  return {type:'polygon',shape:{points:pts},style:{fill:up?'rgba(178,178,80,.38)':'rgba(232,100,75,.33)'}};},data:bandData,encode:{x:0,y:1}};
// price tags
const tagRows=[[0,askPrice,'#A87A00','#000','#A87A00'],[0,tradePrice,'#DD3333','#fff','#DD3333'],[0,lastPrice,'#F0ECDF','#000','#999']];
const tagSeries={type:'custom',z:30,silent:true,clip:false,renderItem:(p,api)=>{
  const y=api.coord([0,api.value(1)])[1],cs=p.coordSys,x=cs.x+cs.width;
  const f=tagRows[p.dataIndex];
  return {type:'group',children:[
   {type:'polygon',shape:{points:[[x-2,y],[x+4,y-12],[x+90,y-12],[x+90,y+12],[x+4,y+12]]},style:{fill:f[2],stroke:f[4],lineWidth:1}},
   {type:'text',style:{text:api.value(1).toFixed(2),x:x+10,y:y,verticalAlign:'middle',font:'19.5px "Liberation Sans"',fill:f[3]}}]};},
  data:tagRows.map(r=>[r[0],r[1]]),encode:{x:0,y:1}};
const levelStyle={b:{color:'#7E9DE8',width:1,type:[3,2]},y:{color:'#D4A437',width:1,type:[3,2]}};
const lineHolder={type:'line',data:[],z:4,silent:true,symbol:'none',
  markLine:{silent:true,symbol:'none',animation:false,label:{show:false},data:[
   ...levelLines.map(r=>[{coord:[cat(r[0]),r[2]],lineStyle:levelStyle[r[3]]},{coord:[cat(r[1]),r[2]]}]),
   {yAxis:lastPrice,lineStyle:{color:C.dgold,width:3.5,type:[3.4,3.2]}},
   [{coord:[cat(216),bluePaintPrice],lineStyle:{color:'#0A0ABE',width:2.5,type:'solid'}},{coord:[cat(217),bluePaintPrice]}],
   [{coord:[cat(216),redPaintPrice],lineStyle:{color:'#E01818',width:2.5,type:'solid'}},{coord:[cat(217),redPaintPrice]}]
  ]}};
const gridHolder={type:'line',data:[],z:3,silent:true,symbol:'none',
  markLine:{silent:true,symbol:'none',animation:false,label:{show:false},data:[
   ...gridBars.map(b=>({xAxis:cat(b),lineStyle:{color:C.grid,width:1.2,type:'solid'}})),
   {xAxis:cat(213),lineStyle:{color:'#D4562A',width:1.8,type:'solid'}}
  ]}};

const T=(text,x,y,font,fill,extra,sx)=>({type:'text',x,y,scaleX:sx||1,z:40,silent:true,style:Object.assign({text,font,fill,verticalAlign:'middle'},extra||{})});
const option={
 animation:false,backgroundColor:C.bg,
 grid:{left:2.4,top:0,width:2463.4,height:1415,containLabel:false},
 xAxis:{type:'category',data:cats,boundaryGap:true,
  axisLine:{onZero:false,lineStyle:{color:'#7E8A8A',width:2}},
  axisTick:{show:true,alignWithLabel:true,length:4,interval:(i,v)=>v!=='',lineStyle:{color:C.grid}},
  splitLine:{show:false},
  axisLabel:{show:true,interval:(i,v)=>v!=='',margin:22,fontSize:19,fontFamily:'Liberation Sans',color:C.txt,hideOverlap:false}},
 yAxis:{type:'value',position:'right',offset:3,min:yMin,max:yMax,scale:true,
  axisLine:{show:true,lineStyle:{color:'#7E8A8A',width:1.6}},
  axisTick:{show:true,length:3,customValues:priceTicks.concat([6910]),lineStyle:{color:C.grid}},
  splitLine:{show:true,lineStyle:{color:C.grid,width:1.2}},
  axisLabel:{customValues:priceTicks,margin:4,fontSize:19.2,fontFamily:'Liberation Sans',color:C.txt,formatter:v=>Number(v).toFixed(2)}},
 series:[
  zoneSeries(zoneRows,1),
  profileSeries(profileRows(profileAVol,profileATop,0,-0.72,i=>i===profileAPoc?2:(i>=profileALightFrom?1:0))),
  profileSeries(profileRows(profileBVol,profileBTop,cat(99),0.05,i=>i===profileBPoc?2:(i>=profileBLightFrom?1:0))),
  profileSeries(profileRows(profileCVol,profileCTop,cat(196),0.1,i=>i===profileCPoc?2:((i>=profileCDark[0]&&i<=profileCDark[1])?0:1))),
  zoneSeries(tealRows,3),
  gridHolder,lineHolder,
  textSeries(barCounts,14,'DejaVu Sans','rgba(105,105,100,.62)',4),
  textSeries(levelLabelsBlue,12.5,'Liberation Sans','#7E9DE8',4),
  textSeries(levelLabelsGold,12.5,'Liberation Sans','#CFA650',4),
  {type:'candlestick',z:5,barWidth:6,silent:true,data:candleData,
   itemStyle:{color:'#FFFFFF',color0:'#000000',borderColor:'#6A7678',borderColor0:'#000000',borderColorDoji:'#000000',borderWidth:1}},
  bandSeries,
  dotSeries(blueStopA,C.slate),dotSeries(blueStopB,C.slate),dotSeries(blueStopC,C.slate),dotSeries(blueStopD,C.slate),
  dotSeries(goldStopA,C.dgold),dotSeries(goldStopB,C.dgold),dotSeries(goldStopC,C.dgold),dotSeries(goldStopD,C.dgold),
  vwapSeries(vwapA),vwapSeries(vwapB),vwapSeries(vwapC),...vwapCore(),
  ...stepRunSeries,
  {type:'line',data:linRegLine.map((v,i)=>[cat(i),v]),symbol:'none',z:8,silent:true,lineStyle:{color:'#8B9B00',width:1.5,type:[6,2,1.5,2]}},
  {type:'line',data:hatemaLine.map((v,i)=>[cat(i),v]),symbol:'none',z:8,silent:true,lineStyle:{color:'#E23A38',width:1.6}},
  ...temaRunSeries,
  markSeries(pinkBalls,'circle',16,{color:'rgba(222,72,115,.85)'},0,10),
  markSeries(tealBalls,'circle',16,{color:'rgba(40,150,150,.78)'},0,10),
  markSeries(ringMarks,'circle',19,{color:'rgba(190,180,170,.15)',borderColor:'rgba(110,110,110,.5)',borderWidth:1.5},0,11),
  markSeries(sellTriangles,'triangle',[15,11],{color:'#A87A00'},180,12),
  markSeries(buyTriangles,'triangle',[16,12],{color:C.slate},0,12),
  textSeries(greenA,17,'Liberation Sans','#3CCB3C',13),
  textSeries(redA,17,'Liberation Sans','#E0304F',13),
  tagSeries
 ],
 graphic:{elements:[
  T('BarCounter(ES 12-25 (10000 Tick),50,false,#FF808080,14,true)',4,16,'19.3px "Liberation Sans"','#10303C'),
  T('Pacific Time Z Contract,',9,32,'bold 24.6px "Liberation Serif"','#3A4A50'),
  T('ES',9,59,'bold 24.6px "Liberation Serif"','#3A4A50'),
  T('10000 Tick',9,87,'bold 24.6px "Liberation Serif"','#3A4A50'),
  {type:'rect',x:8,y:1362,z:39,silent:true,shape:{width:99,height:13},style:{fill:'#FFFF99'}},
  T('12-Nov-2025 Reminders:',9,1356,'13.5px "Liberation Sans"','#F0A040'),
  T('07:25 Crude Oil',14,1368,'13.5px "Liberation Sans"','#E0A030'),
  T('ama-MovAvg Cross 21n 0 lag TEMA & HATEMA, ama LinReg Band 13n, & 21n, ama-Super Trend U Stop 13n LinReg offset 21n ATR @ 1.0, anaVWAP Reg Session',8,1383,'bold 26px "Liberation Serif"','#151515',null,0.945),
  T('© 2025 NinjaTrader, LLC',4,1399,'19px "Liberation Sans"','#24343C'),
  T('ES 12-25 ES 12-25 10000 Tick',4,1460,'10px "Liberation Sans"','#555'),
  T('Tuesday',1022,1368,'bold 16px "Liberation Sans"','#3C8CD8'),
  T('Wednesda',2079,1368,'bold 16px "Liberation Sans"','#3C8CD8'),
  T('y',2079,1387,'bold 16px "Liberation Sans"','#3C8CD8'),
  T('ATR: 27',2387,1394,'19px "Liberation Sans"','#24343C'),
  T('NINJATRADER',2438,1458,'bold 14px "Liberation Sans"','#E8502A'),
  T('Σ: 1145K / 49.50',1101,887,'12.5px "Liberation Sans"','#3C7D2E'),
  T('Σ: 268K / 32.00',2158,557,'12.5px "Liberation Sans"','#3C7D2E'),
  T('293K / 73.00',0,1298,'12.5px "Liberation Sans"','#3C7D2E'),
  T('1062',2399,531,'19px "Liberation Sans"','#24343C'),
  {type:'rect',x:2312.5,y:231.5,z:39,silent:true,shape:{width:57,height:19},style:{fill:'#FFFF00',stroke:'#D0502A',lineWidth:1.5}},
  T('Crude Oil',2315.5,241,'12.4px "Liberation Sans"','#000')
 ]}
};
const chart=echarts.init(document.getElementById('c'),null,{renderer:'canvas',width:2554,height:1468});
chart.setOption(option);
</script></body></html>
